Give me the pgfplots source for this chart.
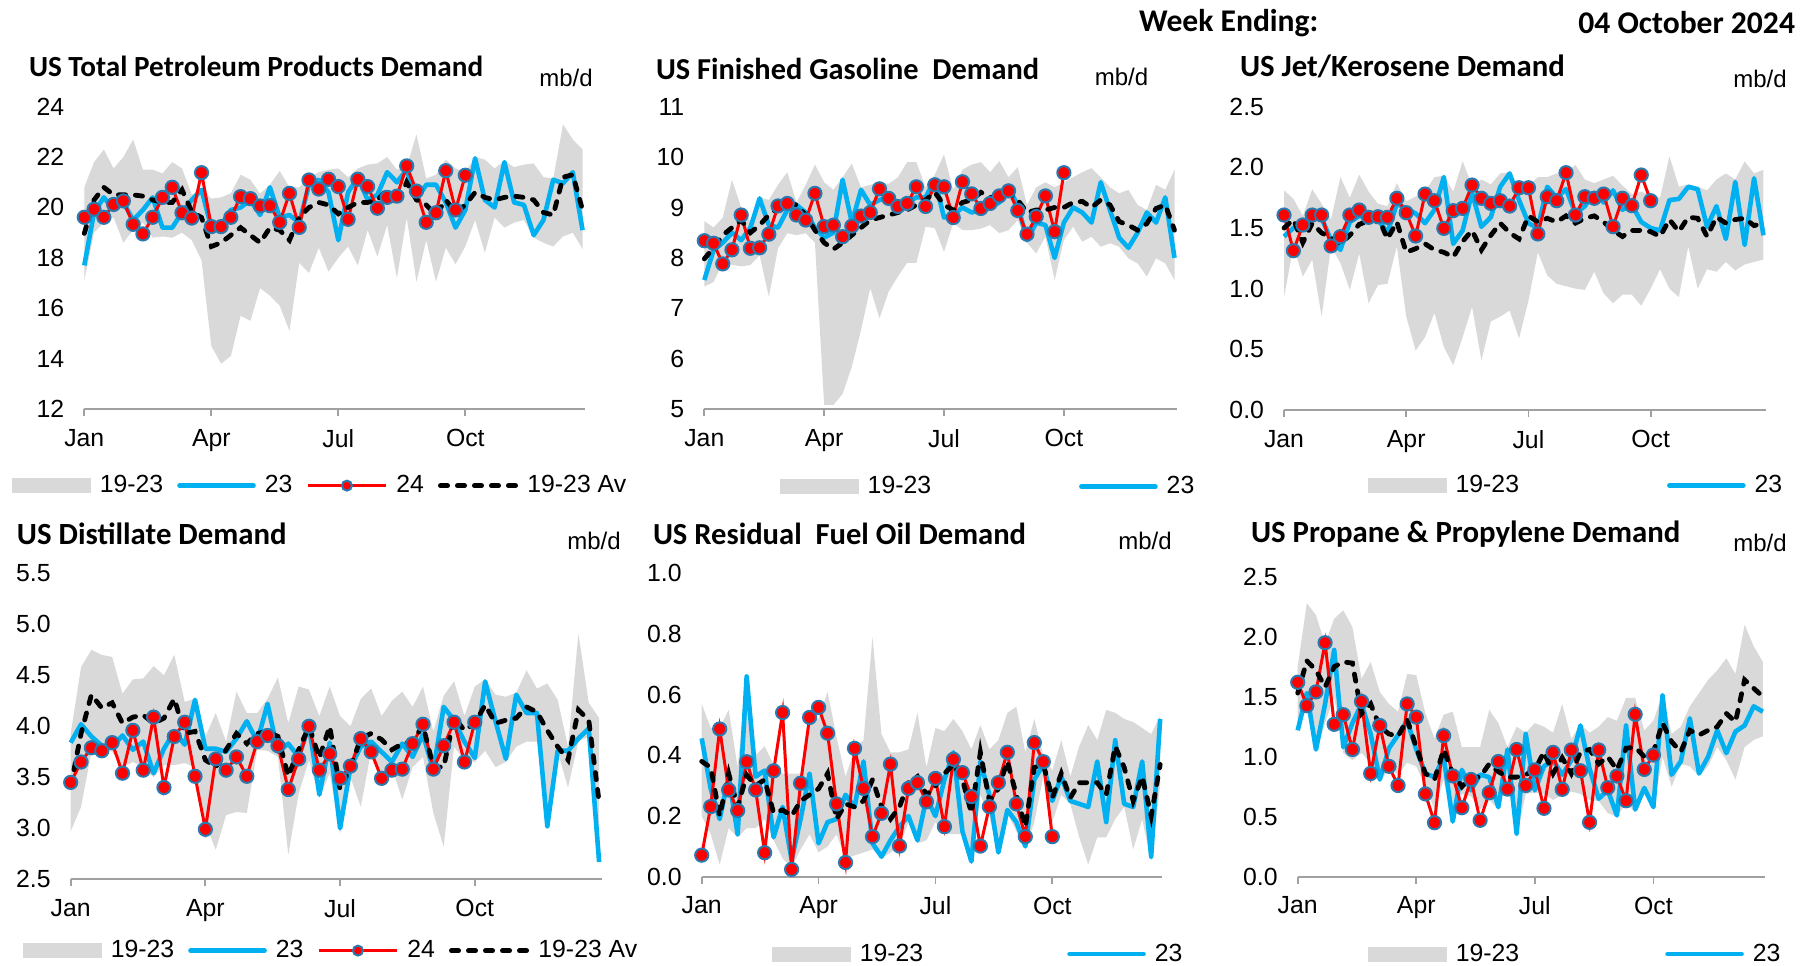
\documentclass[border=0pt]{standalone}
\usepackage{fontspec}
\setmainfont{Liberation Sans}
\newfontfamily\calb{Carlito}
\usepackage{pgfplots}
\pgfplotsset{compat=1.18}
\usepackage{pgfplotstable}
\usepgfplotslibrary{fillbetween}
\definecolor{bandgrey}{HTML}{D9D9D9}
\definecolor{blue23}{HTML}{00B0F0}
\definecolor{red24}{HTML}{FF0000}
\definecolor{markedge}{HTML}{2A7AB0}
\definecolor{axgrey}{HTML}{A0A0A0}

% ---------------- data ----------------
\pgfplotstableread{
w lo hi b av
0 17.1 20.8 17.7 18.97
1 19.0 21.8 19.8 20.3
2 19.4 22.3 20.4 20.8
3 19.6 21.55 19.9 20.5
4 18.6 22.0 20.2 20.5
5 19.1 22.7 19.5 20.5
6 19.4 21.5 19.9 20.45
7 18.8 21.5 20.4 20.3
8 18.85 21.35 19.2 20.2
9 18.8 21.8 19.2 20.2
10 19.0 21.55 19.8 20.7
11 18.7 20.5 20.3 19.83
12 17.9 20.75 20.7 19.6
13 14.5 20.35 19.2 18.45
14 13.8 20.4 19.3 18.6
15 14.1 20.56 19.9 18.9
16 15.7 21.3 20.0 19.2
17 15.5 21.1 20.3 18.9
18 16.8 20.55 19.7 18.6
19 16.5 20.9 20.8 19.2
20 16.1 21.45 19.6 19.1
21 15.1 20.8 19.7 18.7
22 17.8 20.8 19.4 19.6
23 17.4 21.2 20.9 20.0
24 18.4 21.4 21.1 20.2
25 17.45 21.5 20.6 20.1
26 18.0 21.55 18.7 19.75
27 18.45 21.2 20.6 20.0
28 17.7 21.55 21.2 20.2
29 19.1 21.7 20.3 20.2
30 18.05 21.75 20.5 20.3
31 19.3 22.0 21.4 20.7
32 17.2 21.5 21.0 20.1
33 19.6 21.6 21.5 21.0
34 17.05 22.9 20.3 20.3
35 18.7 21.15 20.9 20.1
36 17.05 21.3 20.9 19.7
37 18.4 21.9 20.2 20.3
38 17.75 21.55 19.2 19.8
39 18.45 21.4 19.9 20.1
40 19.5 22.0 21.95 20.6
41 18.2 21.9 20.3 20.4
42 19.6 21.55 20.0 20.3
43 19.2 21.85 21.8 20.4
44 19.4 21.6 20.2 20.45
45 19.5 21.7 20.1 20.4
46 18.8 21.75 18.9 20.3
47 18.6 21.2 19.5 19.8
48 18.45 21.15 21.1 19.7
49 18.85 23.3 20.96 21.2
50 19.0 22.7 21.4 21.3
51 18.35 22.3 19.1 19.9
}\dA
\pgfplotstableread{
w v
0 19.61
1 19.93
2 19.61
3 20.12
4 20.26
5 19.33
6 18.95
7 19.61
8 20.40
9 20.80
10 19.79
11 19.58
12 21.38
13 19.24
14 19.24
15 19.61
16 20.43
17 20.35
18 20.06
19 20.07
20 19.41
21 20.56
22 19.21
23 21.09
24 20.73
25 21.12
26 20.83
27 19.53
28 21.12
29 20.83
30 19.97
31 20.40
32 20.45
33 21.65
34 20.65
35 19.41
36 19.79
37 21.46
38 19.90
39 21.28
}\rA

\pgfplotstableread{
w lo hi b av
0 7.43 8.73 7.56 7.98
1 7.52 8.6 8.15 8.2
2 7.9 8.8 8.3 8.45
3 7.86 9.55 8.5 8.6
4 7.83 9.0 8.35 8.75
5 7.86 8.72 8.6 8.5
6 8.05 9.2 9.18 8.65
7 7.23 9.15 8.65 8.85
8 8.19 9.45 8.6 9.0
9 8.49 9.7 8.95 9.1
10 8.45 9.1 9.05 9.05
11 8.49 9.45 8.9 8.85
12 8.3 9.85 8.6 8.55
13 5.08 9.5 8.4 8.3
14 5.08 9.35 8.5 8.17
15 5.3 9.6 9.55 8.3
16 5.84 9.87 8.7 8.45
17 6.57 9.4 9.35 8.6
18 7.4 9.45 9.05 8.75
19 6.8 9.5 9.15 8.8
20 7.33 9.47 9.2 8.85
21 7.63 9.6 9.0 8.9
22 7.9 9.9 9.1 8.95
23 7.9 9.9 9.2 9.05
24 8.62 9.4 9.2 9.15
25 8.59 9.65 9.55 9.3
26 8.12 10.05 8.8 9.05
27 8.69 9.35 8.85 8.95
28 8.55 9.75 9.0 9.1
29 8.55 9.85 8.9 9.15
30 8.58 9.9 8.95 9.3
31 8.65 9.7 9.0 9.2
32 8.49 9.92 9.1 9.2
33 8.55 9.6 9.38 9.3
34 8.75 9.8 9.05 9.15
35 8.3 9.05 8.35 8.9
36 8.09 9.4 8.7 8.95
37 8.42 9.5 8.65 8.95
38 7.56 9.4 8.0 9.0
39 8.35 9.5 8.7 9.0
40 8.62 9.6 9.0 9.1
41 8.32 9.7 8.9 9.12
42 8.42 9.78 8.7 9.0
43 8.22 9.6 9.5 9.15
44 8.29 9.4 8.95 9.05
45 8.22 9.28 8.4 8.72
46 7.99 9.35 8.2 8.65
47 7.89 9.05 8.5 8.55
48 7.63 8.95 8.9 8.68
49 7.99 9.45 8.7 8.98
50 7.89 9.35 9.2 9.05
51 7.56 9.75 8.0 8.55
}\dB
\pgfplotstableread{
w v
0 8.34
1 8.29
2 7.88
3 8.16
4 8.85
5 8.19
6 8.20
7 8.47
8 9.03
9 9.08
10 8.85
11 8.75
12 9.28
13 8.62
14 8.65
15 8.42
16 8.63
17 8.83
18 8.90
19 9.37
20 9.18
21 9.02
22 9.08
23 9.41
24 9.02
25 9.45
26 9.41
27 8.80
28 9.51
29 9.27
30 8.98
31 9.08
32 9.23
33 9.33
34 8.94
35 8.47
36 8.82
37 9.23
38 8.52
39 9.69
}\rB

\pgfplotstableread{
w lo hi b av
0 0.93 1.81 1.43 1.5
1 1.35 1.74 1.5 1.57
2 1.1 1.6 1.53 1.38
3 1.24 1.82 1.6 1.54
4 0.77 1.7 1.58 1.46
5 1.35 1.57 1.4 1.42
6 1.21 1.92 1.32 1.37
7 0.99 1.75 1.55 1.44
8 1.29 1.94 1.6 1.53
9 0.88 1.8 1.58 1.56
10 1.03 1.7 1.57 1.59
11 1.04 1.68 1.46 1.41
12 1.35 1.87 1.7 1.55
13 0.77 1.72 1.66 1.3
14 0.49 1.76 1.62 1.33
15 0.6 1.8 1.54 1.37
16 0.8 1.92 1.65 1.32
17 0.52 1.93 1.92 1.3
18 0.37 1.8 1.37 1.26
19 0.6 2.05 1.48 1.39
20 0.85 1.85 1.79 1.48
21 0.41 1.9 1.51 1.32
22 0.73 1.86 1.59 1.44
23 0.77 1.95 1.84 1.54
24 0.82 1.96 1.95 1.46
25 0.59 1.85 1.73 1.41
26 0.9 1.85 1.54 1.6
27 1.3 1.92 1.5 1.55
28 1.11 1.92 1.84 1.58
29 1.04 1.95 1.75 1.55
30 1.02 1.95 1.82 1.6
31 1.0 2.02 1.62 1.54
32 0.99 1.9 1.68 1.58
33 1.14 1.87 1.79 1.6
34 0.96 1.9 1.71 1.55
35 0.88 1.93 1.81 1.48
36 0.95 1.85 1.65 1.43
37 0.95 1.78 1.69 1.48
38 0.86 1.8 1.55 1.48
39 1.0 1.77 1.5 1.47
40 1.16 1.75 1.48 1.43
41 1.0 2.09 1.73 1.57
42 0.93 1.84 1.74 1.47
43 1.35 1.86 1.84 1.59
44 1.0 1.84 1.82 1.58
45 1.16 1.81 1.51 1.43
46 1.14 1.9 1.68 1.59
47 1.22 1.95 1.41 1.54
48 1.15 1.9 1.88 1.57
49 1.2 2.05 1.36 1.58
50 1.22 1.95 1.91 1.52
51 1.24 1.98 1.44 1.54
}\dC
\pgfplotstableread{
w v
0 1.607
1 1.313
2 1.525
3 1.607
4 1.607
5 1.352
6 1.429
7 1.607
8 1.648
9 1.588
10 1.593
11 1.588
12 1.745
13 1.626
14 1.434
15 1.780
16 1.725
17 1.497
18 1.643
19 1.662
20 1.854
21 1.745
22 1.703
23 1.725
24 1.681
25 1.832
26 1.832
27 1.451
28 1.758
29 1.725
30 1.956
31 1.607
32 1.758
33 1.745
34 1.780
35 1.511
36 1.745
37 1.684
38 1.937
39 1.725
}\rC

\pgfplotstableread{
w lo hi b av
0 2.97 3.93 3.84 3.41
1 3.21 4.58 4.02 3.93
2 3.75 4.75 3.9 4.31
3 3.78 4.7 3.81 4.18
4 3.75 4.68 3.8 4.23
5 3.6 4.32 3.91 4.03
6 3.65 4.46 3.77 4.09
7 3.6 4.47 3.85 4.11
8 3.5 4.59 3.54 4.03
9 3.62 4.5 3.78 4.08
10 3.62 4.7 3.95 4.27
11 3.64 4.24 3.82 3.93
12 3.6 4.27 4.26 3.95
13 3.05 3.9 3.78 3.67
14 2.79 4.13 3.78 3.6
15 3.13 3.85 3.75 3.77
16 3.16 4.34 3.88 3.93
17 3.15 4.13 4.05 3.83
18 3.77 4.13 3.85 3.93
19 3.76 4.27 4.22 3.95
20 3.7 4.48 3.75 3.9
21 2.74 4.03 3.83 3.51
22 3.34 4.39 3.7 3.77
23 3.67 4.36 4.0 4.0
24 3.3 4.1 3.33 3.69
25 3.54 4.39 3.84 4.0
26 2.95 4.1 3.0 3.38
27 3.5 4.0 3.6 3.6
28 3.21 4.27 3.8 3.88
29 3.76 4.37 3.85 3.93
30 3.5 4.1 3.75 3.87
31 3.6 4.25 3.65 3.77
32 3.28 4.34 3.83 3.83
33 3.6 4.19 3.7 3.85
34 3.7 4.39 3.92 4.01
35 3.15 3.95 3.57 3.6
36 2.82 4.3 4.19 3.6
37 3.8 4.44 4.06 4.09
38 3.67 4.1 3.85 3.96
39 3.65 4.39 3.69 4.03
40 3.76 4.46 4.44 4.21
41 3.6 4.31 4.05 4.03
42 3.65 4.29 3.68 4.06
43 3.8 4.33 4.31 4.08
44 3.85 4.55 4.13 4.19
45 3.85 4.37 4.13 4.14
46 3.0 4.42 3.02 3.96
47 3.75 4.26 3.76 3.8
48 3.4 3.8 3.76 3.67
49 3.85 4.91 3.88 4.16
50 3.9 4.23 3.98 4.06
51 2.65 4.08 2.67 3.26
}\dD
\pgfplotstableread{
w v
0 3.45
1 3.65
2 3.79
3 3.76
4 3.84
5 3.54
6 3.96
7 3.57
8 4.09
9 3.40
10 3.90
11 4.04
12 3.51
13 2.99
14 3.68
15 3.57
16 3.70
17 3.51
18 3.85
19 3.91
20 3.81
21 3.38
22 3.68
23 4.00
24 3.57
25 3.73
26 3.49
27 3.61
28 3.88
29 3.75
30 3.49
31 3.57
32 3.58
33 3.83
34 4.02
35 3.58
36 3.81
37 4.04
38 3.65
39 4.04
}\rD

\pgfplotstableread{
w lo hi b av
0 0.2 0.57 0.456 0.38
1 0.14 0.49 0.29 0.36
2 0.04 0.49 0.19 0.2
3 0.16 0.55 0.33 0.34
4 0.13 0.36 0.14 0.23
5 0.16 0.67 0.66 0.335
6 0.16 0.4 0.33 0.3
7 0.19 0.43 0.35 0.32
8 0.12 0.37 0.13 0.21
9 0.06 0.34 0.23 0.22
10 0.03 0.34 0.055 0.2
11 0.09 0.34 0.19 0.25
12 0.14 0.53 0.34 0.27
13 0.08 0.52 0.11 0.29
14 0.1 0.61 0.18 0.34
15 0.14 0.46 0.19 0.19
16 0.06 0.33 0.27 0.24
17 0.07 0.42 0.23 0.23
18 0.08 0.45 0.38 0.25
19 0.09 0.79 0.11 0.32
20 0.06 0.47 0.066 0.23
21 0.08 0.41 0.12 0.19
22 0.1 0.41 0.165 0.23
23 0.18 0.42 0.2 0.31
24 0.11 0.54 0.12 0.33
25 0.12 0.36 0.26 0.27
26 0.18 0.49 0.2 0.3
27 0.14 0.48 0.32 0.34
28 0.14 0.52 0.41 0.37
29 0.14 0.48 0.15 0.32
30 0.04 0.42 0.05 0.21
31 0.27 0.5 0.38 0.41
32 0.2 0.42 0.27 0.25
33 0.07 0.45 0.08 0.29
34 0.21 0.54 0.22 0.38
35 0.15 0.56 0.18 0.27
36 0.09 0.41 0.1 0.165
37 0.18 0.52 0.32 0.36
38 0.33 0.4 0.37 0.37
39 0.18 0.35 0.25 0.26
40 0.27 0.45 0.33 0.34
41 0.24 0.33 0.25 0.26
42 0.13 0.43 0.24 0.31
43 0.04 0.5 0.23 0.31
44 0.13 0.45 0.38 0.31
45 0.13 0.55 0.18 0.27
46 0.19 0.54 0.45 0.43
47 0.23 0.52 0.24 0.36
48 0.09 0.51 0.23 0.25
49 0.19 0.49 0.38 0.33
50 0.05 0.47 0.066 0.2
51 0.3 0.53 0.52 0.37
}\dE
\pgfplotstableread{
w v
0 0.071
1 0.231
2 0.487
3 0.286
4 0.218
5 0.379
6 0.286
7 0.079
8 0.349
9 0.541
10 0.024
11 0.308
12 0.525
13 0.558
14 0.473
15 0.240
16 0.047
17 0.423
18 0.291
19 0.132
20 0.209
21 0.371
22 0.101
23 0.291
24 0.310
25 0.247
26 0.324
27 0.165
28 0.387
29 0.343
30 0.264
31 0.101
32 0.231
33 0.310
34 0.410
35 0.240
36 0.132
37 0.442
38 0.379
39 0.132
}\rE

\pgfplotstableread{
w lo hi b av
0 1.2 1.75 1.22 1.53
1 1.42 2.28 1.53 1.8
2 1.04 2.18 1.06 1.72
3 1.28 1.94 1.44 1.58
4 1.5 2.15 1.89 1.75
5 1.03 2.22 1.08 1.79
6 0.97 2.08 1.28 1.78
7 1.03 1.65 1.44 1.36
8 0.95 1.79 1.19 1.44
9 0.79 1.54 0.81 1.25
10 0.9 1.44 1.07 1.19
11 0.85 1.375 1.18 1.17
12 0.95 1.69 1.3 1.31
13 0.92 1.68 1.06 1.08
14 0.75 1.36 0.86 0.86
15 0.56 1.15 0.83 0.81
16 0.81 1.35 1.0 1.06
17 0.44 1.375 0.46 0.86
18 0.69 1.08 0.89 0.75
19 0.67 1.08 0.72 0.83
20 0.56 1.08 0.85 0.83
21 0.64 1.39 0.83 0.94
22 0.56 1.28 0.58 0.875
23 0.81 1.08 1.06 0.83
24 0.33 1.25 0.36 0.83
25 0.69 1.2 1.19 0.85
26 0.7 1.28 0.72 0.89
27 0.69 1.25 0.92 1.04
28 0.64 1.2 0.97 0.86
29 0.68 1.44 0.85 0.99
30 0.71 1.15 0.97 0.86
31 0.69 1.27 1.26 1.04
32 0.64 1.2 0.9 1.06
33 0.63 1.25 0.65 0.94
34 0.53 1.33 0.72 1.0
35 0.5 1.3 0.51 0.89
36 0.61 1.49 1.26 1.07
37 0.54 1.49 0.56 1.08
38 0.69 1.22 0.74 1.0
39 0.56 1.3 0.58 1.04
40 1.0 1.52 1.51 1.28
41 0.75 1.19 0.85 1.125
42 0.94 1.25 0.96 1.04
43 0.92 1.42 1.32 1.22
44 0.84 1.53 0.86 1.18
45 0.92 1.64 1.0 1.22
46 1.08 1.72 1.22 1.25
47 0.97 1.82 1.03 1.36
48 0.81 1.69 1.21 1.29
49 1.08 2.1 1.26 1.64
50 1.14 1.92 1.42 1.57
51 1.17 1.79 1.375 1.5
}\dF
\pgfplotstableread{
w v
0 1.62
1 1.425
2 1.54
3 1.95
4 1.27
5 1.35
6 1.06
7 1.46
8 0.86
9 1.26
10 0.92
11 0.76
12 1.44
13 1.33
14 0.69
15 0.45
16 1.175
17 0.84
18 0.575
19 0.81
20 0.47
21 0.70
22 0.96
23 0.73
24 1.06
25 0.76
26 0.89
27 0.57
28 1.036
29 0.728
30 1.056
31 0.883
32 0.453
33 1.056
34 0.742
35 0.839
36 0.633
37 1.353
38 0.894
39 1.014
}\rF

\newcommand{\tsz}{\fontsize{12.4}{14}\selectfont}
\pgfplotsset{
  panel/.style={
    scale only axis, clip=false,
    xmin=0, xmax=51.25,
    xtick={0,13,26,39}, xticklabels={Jan,Apr,Jul,Oct},
    axis x line*=bottom, axis y line*=left,
    y axis line style={draw=none},
    x axis line style={draw=axgrey, line width=0.9pt},
    xtick style={draw=axgrey, line width=0.9pt},
    ytick style={draw=none},
    tick align=outside, major tick length=3.5pt,
    tick label style={font=\tsz},
    /pgf/number format/assume math mode=true,
    xticklabel style={yshift=-3pt},
    yticklabel style={xshift=-3pt},
    legend cell align=left,
    legend style={draw=none, fill=none, inner sep=0pt, outer sep=0pt,
      legend columns=-1, font=\tsz, anchor=west,
      nodes={inner sep=0pt},
      /tikz/every odd column/.append style={column sep=4.5pt},
      /tikz/every even column/.append style={column sep=7pt}},
  },
  wide legend/.style={legend style={
      /tikz/every even column/.append style={column sep=#1}}},
  bandfill/.style={fill=bandgrey, draw=none, forget plot},
  s23/.style={color=blue23, line width=2.3pt, line join=round, forget plot},
  s24/.style={color=red24, line width=1.5pt, mark=*, mark size=3.3pt,
    mark options={fill=red24, draw=markedge, line width=1pt, solid}, forget plot},
  sav/.style={color=black, line width=2.4pt, line cap=round,
    dash pattern=on 3.6pt off 4.9pt, forget plot},
}
\newcommand{\legGrey}{\addlegendimage{legend image code/.code={\fill[bandgrey] (0pt,-3.5pt) rectangle (39pt,3.5pt);}}}
\newcommand{\legBlue}{\addlegendimage{legend image code/.code={\draw[blue23, line width=2.3pt, line cap=round] (1pt,0pt) -- (38pt,0pt);}}}
\newcommand{\legRed}{\addlegendimage{legend image code/.code={\draw[red24, line width=1.5pt] (0pt,0pt) -- (39pt,0pt); \draw[fill=red24, draw=markedge, line width=1pt] (19.5pt,0pt) circle (2.5pt);}}}
\newcommand{\legAv}{\addlegendimage{legend image code/.code={\draw[black, line width=2.4pt, line cap=round, dash pattern=on 3.6pt off 4.9pt] (1.2pt,0pt) -- (39pt,0pt);}}}

\begin{document}
\begin{tikzpicture}

% Panel 1
\begin{axis}[panel, at={(42.15pt,278pt)}, anchor=south west,
  width=250.35pt, height=151.15pt, ymin=12, ymax=24, ytick={12,14,...,24},
  legend style={at={(-0.1444,-0.2534)}}]
\addplot[name path=hiA, draw=none, forget plot] table[x=w,y=hi]{\dA};
\addplot[name path=loA, draw=none, forget plot] table[x=w,y=lo]{\dA};
\addplot[bandfill] fill between[of=hiA and loA];
\addplot[s23] table[x=w,y=b]{\dA};
\addplot[s24] table[x=w,y=v]{\rA};
\addplot[sav] table[x=w,y=av]{\dA};
\legGrey\addlegendentry{19-23}
\legBlue\addlegendentry{23}
\legRed\addlegendentry{24}
\legAv\addlegendentry{19-23 Av}
\end{axis}

% Panel 2
\begin{axis}[panel, at={(352.15pt,278pt)}, anchor=south west,
  width=236.25pt, height=151.15pt, ymin=5, ymax=11, ytick={5,6,...,11},
  legend style={at={(0.160,-0.257)}}, wide legend=74pt]
\addplot[name path=hiB, draw=none, forget plot] table[x=w,y=hi]{\dB};
\addplot[name path=loB, draw=none, forget plot] table[x=w,y=lo]{\dB};
\addplot[bandfill] fill between[of=hiB and loB];
\addplot[s23] table[x=w,y=b]{\dB};
\addplot[s24] table[x=w,y=v]{\rB};
\addplot[sav] table[x=w,y=av]{\dB};
\legGrey\addlegendentry{19-23}
\legBlue\addlegendentry{23}
\end{axis}

% Panel 3
\begin{axis}[panel, at={(642pt,277.5pt)}, anchor=south west,
  width=240.9pt, height=151.65pt, ymin=0, ymax=2.5, ytick={0,0.5,...,2.5},
  yticklabel style={/pgf/number format/.cd, fixed, fixed zerofill, precision=1},
  legend style={at={(0.174,-0.249)}}, wide legend=74pt]
\addplot[name path=hiC, draw=none, forget plot] table[x=w,y=hi]{\dC};
\addplot[name path=loC, draw=none, forget plot] table[x=w,y=lo]{\dC};
\addplot[bandfill] fill between[of=hiC and loC];
\addplot[s23] table[x=w,y=b]{\dC};
\addplot[s24] table[x=w,y=v]{\rC};
\addplot[sav] table[x=w,y=av]{\dC};
\legGrey\addlegendentry{19-23}
\legBlue\addlegendentry{23}
\end{axis}

% Panel 4
\begin{axis}[panel, at={(35.35pt,42.85pt)}, anchor=south west,
  width=265.5pt, height=153pt, ymin=2.5, ymax=5.5, ytick={2.5,3,...,5.5},
  yticklabel style={/pgf/number format/.cd, fixed, fixed zerofill, precision=1},
  legend style={at={(-0.0898,-0.233)}}]
\addplot[name path=hiD, draw=none, forget plot] table[x=w,y=hi]{\dD};
\addplot[name path=loD, draw=none, forget plot] table[x=w,y=lo]{\dD};
\addplot[bandfill] fill between[of=hiD and loD];
\addplot[s23] table[x=w,y=b]{\dD};
\addplot[s24] table[x=w,y=v]{\rD};
\addplot[sav] table[x=w,y=av]{\dD};
\legGrey\addlegendentry{19-23}
\legBlue\addlegendentry{23}
\legRed\addlegendentry{24}
\legAv\addlegendentry{19-23 Av}
\end{axis}

% Panel 5
\begin{axis}[panel, at={(350.85pt,44.15pt)}, anchor=south west,
  width=230.35pt, height=151.7pt, ymin=0, ymax=1, ytick={0,0.2,...,1.0},
  yticklabel style={/pgf/number format/.cd, fixed, fixed zerofill, precision=1},
  legend style={at={(0.1526,-0.2548)}}, wide legend=72pt]
\addplot[name path=hiE, draw=none, forget plot] table[x=w,y=hi]{\dE};
\addplot[name path=loE, draw=none, forget plot] table[x=w,y=lo]{\dE};
\addplot[bandfill] fill between[of=hiE and loE];
\addplot[s23] table[x=w,y=b]{\dE};
\addplot[s24] table[x=w,y=v]{\rE};
\addplot[sav] table[x=w,y=av]{\dE};
\legGrey\addlegendentry{19-23}
\legBlue\addlegendentry{23}
\end{axis}

% Panel 6
\begin{axis}[panel, at={(648.85pt,44.15pt)}, anchor=south west,
  width=233.7pt, height=150pt, ymin=0, ymax=2.5, ytick={0,0.5,...,2.5},
  yticklabel style={/pgf/number format/.cd, fixed, fixed zerofill, precision=1},
  legend style={at={(0.1504,-0.2577)}}, wide legend=73pt]
\addplot[name path=hiF, draw=none, forget plot] table[x=w,y=hi]{\dF};
\addplot[name path=loF, draw=none, forget plot] table[x=w,y=lo]{\dF};
\addplot[bandfill] fill between[of=hiF and loF];
\addplot[s23] table[x=w,y=b]{\dF};
\addplot[s24] table[x=w,y=v]{\rF};
\addplot[sav] table[x=w,y=av]{\dF};
\legGrey\addlegendentry{19-23}
\legBlue\addlegendentry{23}
\end{axis}

% Titles and labels
\begin{scope}[every node/.style={inner sep=0pt, outer sep=0pt}]
\node[anchor=west] at (14.5pt,449.5pt) {\calb\bfseries\fontsize{14.6}{17}\selectfont US Total Petroleum Products Demand};
\node[anchor=west] at (328pt,448pt) {\calb\bfseries\fontsize{15.2}{18}\selectfont US Finished Gasoline\ \ Demand};
\node[anchor=west] at (620pt,449.5pt) {\calb\bfseries\fontsize{15.4}{18}\selectfont US Jet/Kerosene Demand};
\node[anchor=west] at (8.5pt,215.5pt) {\calb\bfseries\fontsize{15.4}{18}\selectfont US Distillate Demand};
\node[anchor=west] at (326.5pt,215.5pt) {\calb\bfseries\fontsize{15.3}{18}\selectfont US Residual\ \ Fuel Oil Demand};
\node[anchor=west] at (625.5pt,215.5pt) {\calb\bfseries\fontsize{15.4}{18}\selectfont US Propane \& Propylene Demand};
\node at (283pt,443.75pt) {\fontsize{12}{14}\selectfont mb/d};
\node at (560.75pt,444pt) {\fontsize{12}{14}\selectfont mb/d};
\node at (880pt,443pt) {\fontsize{12}{14}\selectfont mb/d};
\node at (297pt,212pt) {\fontsize{12}{14}\selectfont mb/d};
\node at (572.5pt,212pt) {\fontsize{12}{14}\selectfont mb/d};
\node at (880pt,211pt) {\fontsize{12}{14}\selectfont mb/d};
\node[anchor=west] at (569.5pt,471pt) {\calb\bfseries\fontsize{15.8}{18}\selectfont Week Ending:};
\node[anchor=east] at (897.5pt,471pt) {\calb\bfseries\fontsize{15.8}{18}\selectfont 04 October 2024};
\end{scope}
\pgfresetboundingbox
\path[use as bounding box] (0,0) rectangle (906.5pt,482.5pt);
\end{tikzpicture}
\end{document}
